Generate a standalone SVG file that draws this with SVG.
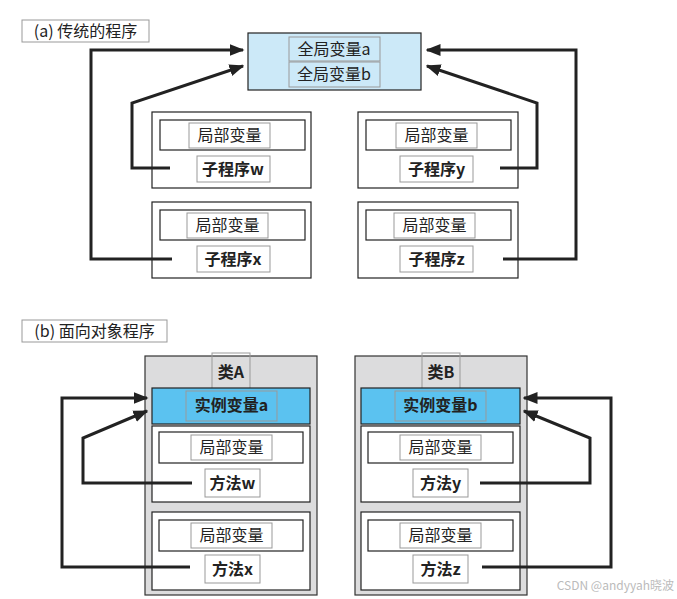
<svg xmlns="http://www.w3.org/2000/svg" width="677" height="599" viewBox="0 0 677 599">
<defs>
<marker id="a" viewBox="0 0 10 10" refX="9" refY="5" markerWidth="5" markerHeight="5" orient="auto"><path d="M0,1 L10,5 L0,9 z" fill="#222"/></marker>
</defs>
<style>
text{font-family:"Noto Sans CJK SC","Liberation Sans",sans-serif;font-size:16px;text-anchor:middle;fill:#222}
.b{font-weight:bold}
.thin{fill:#fff;stroke:#999;stroke-width:1}
.blk{fill:#fff;stroke:#222;stroke-width:1.2}
.con{fill:none;stroke:#222;stroke-width:3;marker-end:url(#a)}
</style>
<rect width="677" height="599" fill="#fff"/>
<g id="titleA"><rect x="22" y="20" width="127" height="22" class="thin"/><text x="85.5" y="37">(a) 传统的程序</text></g>
<g id="global"><rect x="248" y="33" width="173" height="57" fill="#cce9f8" stroke="#222" stroke-width="1.2"/>
<rect x="289" y="37" width="91" height="24" style="fill:none;stroke:#999"/><text x="334" y="55">全局变量a</text>
<rect x="289" y="62" width="91" height="25" style="fill:none;stroke:#999"/><text x="334" y="80">全局变量b</text></g>
<g id="subw"><rect x="152" y="112" width="159" height="76" class="blk"/><rect x="160" y="120" width="145" height="30" class="blk"/><rect x="189" y="123" width="81" height="25" class="thin"/><text x="229.5" y="141">局部变量</text><rect x="197" y="156" width="73" height="26" class="thin"/><text x="233" y="175" class="b">子程序w</text></g>
<g id="suby"><rect x="358" y="112" width="160" height="76" class="blk"/><rect x="366" y="120" width="145" height="30" class="blk"/><rect x="396" y="123" width="81" height="25" class="thin"/><text x="436.5" y="141">局部变量</text><rect x="400" y="156" width="73" height="26" class="thin"/><text x="436.5" y="175" class="b">子程序y</text></g>
<g id="subx"><rect x="152" y="202" width="159" height="76" class="blk"/><rect x="160" y="210" width="145" height="30" class="blk"/><rect x="187" y="213" width="81" height="25" class="thin"/><text x="227.5" y="231">局部变量</text><rect x="197" y="246" width="73" height="26" class="thin"/><text x="233" y="265" class="b">子程序x</text></g>
<g id="subz"><rect x="358" y="202" width="160" height="76" class="blk"/><rect x="366" y="210" width="145" height="30" class="blk"/><rect x="394" y="213" width="81" height="25" class="thin"/><text x="434.5" y="231">局部变量</text><rect x="400" y="246" width="73" height="26" class="thin"/><text x="436.5" y="265" class="b">子程序z</text></g>

<g id="titleB"><rect x="22" y="320" width="145" height="22" class="thin"/><text x="94.5" y="337">(b) 面向对象程序</text></g>
<g id="classA"><rect x="145" y="356" width="172" height="239" fill="#dcdcdd" stroke="#333" stroke-width="1.2"/>
<rect x="212" y="353" width="38" height="43" fill="none" stroke="#999"/><text x="231" y="378" class="b">类A</text>
<rect x="152" y="388" width="158" height="36" fill="#5bc2f0" stroke="#222" stroke-width="1.2"/><rect x="186" y="391" width="91" height="30" fill="none" stroke="#999"/><text x="231.5" y="411" class="b">实例变量a</text>
<rect x="152" y="426" width="158" height="76" class="blk"/><rect x="159" y="432" width="144" height="31" class="blk"/><rect x="191" y="435" width="81" height="25" class="thin"/><text x="231.5" y="453">局部变量</text><rect x="205" y="469" width="55" height="28" class="thin"/><text x="232.5" y="489" class="b">方法w</text>
<rect x="152" y="512" width="158" height="78" class="blk"/><rect x="159" y="520" width="144" height="31" class="blk"/><rect x="191" y="523" width="81" height="25" class="thin"/><text x="231.5" y="541">局部变量</text><rect x="205" y="555" width="55" height="28" class="thin"/><text x="232.5" y="575" class="b">方法x</text></g>
<g id="classB"><rect x="355" y="356" width="172" height="239" fill="#dcdcdd" stroke="#333" stroke-width="1.2"/>
<rect x="422" y="353" width="38" height="43" fill="none" stroke="#999"/><text x="441" y="378" class="b">类B</text>
<rect x="361" y="388" width="159" height="36" fill="#5bc2f0" stroke="#222" stroke-width="1.2"/><rect x="395" y="391" width="91" height="30" fill="none" stroke="#999"/><text x="440.5" y="411" class="b">实例变量b</text>
<rect x="361" y="426" width="159" height="76" class="blk"/><rect x="368" y="432" width="145" height="31" class="blk"/><rect x="400" y="435" width="81" height="25" class="thin"/><text x="440.5" y="453">局部变量</text><rect x="413" y="469" width="55" height="28" class="thin"/><text x="440.5" y="489" class="b">方法y</text>
<rect x="361" y="512" width="159" height="78" class="blk"/><rect x="368" y="520" width="145" height="31" class="blk"/><rect x="400" y="523" width="81" height="25" class="thin"/><text x="440.5" y="541">局部变量</text><rect x="413" y="555" width="55" height="28" class="thin"/><text x="440.5" y="575" class="b">方法z</text></g>

<g id="connectors">
<polyline class="con" points="172,259 91,259 91,50 243,50"/>
<polyline class="con" points="170,168 132,168 132,103 243,66"/>
<polyline class="con" points="500,168 537,168 537,103 427,66"/>
<polyline class="con" points="503,259 576,259 576,50 427,50"/>
<polyline class="con" points="190,567 62,567 62,398 147,398"/>
<polyline class="con" points="192,483 83,483 83,438 147,411"/>
<polyline class="con" points="480,483 590,483 590,438 524,411"/>
<polyline class="con" points="482,567 611,567 611,398 524,398"/>
</g>
<text x="674" y="590" style="font-size:12px;fill:#bbb;text-anchor:end">CSDN @andyyah晓波</text>
</svg>
